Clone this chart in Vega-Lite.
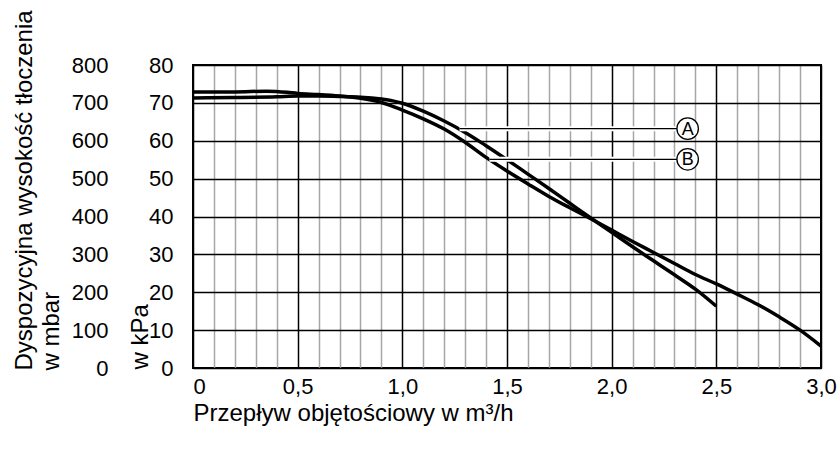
{
  "$schema": "https://vega.github.io/schema/vega-lite/v6.json",
  "width": 628,
  "height": 303,
  "autosize": {"type": "none"},
  "padding": {"left": 193, "top": 65, "right": 16, "bottom": 82},
  "background": "white",
  "config": {
    "view": {"stroke": "black", "strokeWidth": 2},
    "font": "Liberation Sans",
    "axis": {"domain": false, "ticks": false, "labelFont": "Liberation Sans", "titleFont": "Liberation Sans", "labelColor": "black", "titleColor": "black", "titleFontWeight": "normal", "labelFontSize": 22, "titleFontSize": 24, "tickCount": 1000}
  },
  "datasets": {
    "curves": [
      {"curve": "A", "q": 0, "p": 71.3},
      {"curve": "A", "q": 0.2, "p": 71.4},
      {"curve": "A", "q": 0.4, "p": 71.6},
      {"curve": "A", "q": 0.5, "p": 71.8},
      {"curve": "A", "q": 0.6, "p": 71.8},
      {"curve": "A", "q": 0.7, "p": 71.7},
      {"curve": "A", "q": 0.8, "p": 71.5},
      {"curve": "A", "q": 0.9, "p": 71.0},
      {"curve": "A", "q": 0.95, "p": 70.6},
      {"curve": "A", "q": 1.0, "p": 69.9},
      {"curve": "A", "q": 1.1, "p": 67.8},
      {"curve": "A", "q": 1.2, "p": 65.2},
      {"curve": "A", "q": 1.3, "p": 62.2},
      {"curve": "A", "q": 1.4, "p": 58.7},
      {"curve": "A", "q": 1.5, "p": 55.0},
      {"curve": "A", "q": 1.6, "p": 51.2},
      {"curve": "A", "q": 1.7, "p": 47.4},
      {"curve": "A", "q": 1.8, "p": 43.5},
      {"curve": "A", "q": 1.9, "p": 39.6},
      {"curve": "A", "q": 2.0, "p": 35.8},
      {"curve": "A", "q": 2.1, "p": 32.0},
      {"curve": "A", "q": 2.2, "p": 28.3},
      {"curve": "A", "q": 2.3, "p": 24.6},
      {"curve": "A", "q": 2.4, "p": 20.8},
      {"curve": "A", "q": 2.5, "p": 16.3},
      {"curve": "B", "q": 0, "p": 72.9},
      {"curve": "B", "q": 0.2, "p": 72.9},
      {"curve": "B", "q": 0.35, "p": 73.1},
      {"curve": "B", "q": 0.45, "p": 72.8},
      {"curve": "B", "q": 0.5, "p": 72.5},
      {"curve": "B", "q": 0.6, "p": 72.2},
      {"curve": "B", "q": 0.7, "p": 71.8},
      {"curve": "B", "q": 0.8, "p": 71.2},
      {"curve": "B", "q": 0.9, "p": 70.1},
      {"curve": "B", "q": 1.0, "p": 68.1},
      {"curve": "B", "q": 1.1, "p": 65.8},
      {"curve": "B", "q": 1.2, "p": 63.1},
      {"curve": "B", "q": 1.3, "p": 59.6},
      {"curve": "B", "q": 1.4, "p": 55.6},
      {"curve": "B", "q": 1.5, "p": 52.0},
      {"curve": "B", "q": 1.6, "p": 48.6},
      {"curve": "B", "q": 1.7, "p": 45.3},
      {"curve": "B", "q": 1.8, "p": 42.3},
      {"curve": "B", "q": 1.9, "p": 39.4},
      {"curve": "B", "q": 2.0, "p": 36.4},
      {"curve": "B", "q": 2.1, "p": 33.4},
      {"curve": "B", "q": 2.2, "p": 30.5},
      {"curve": "B", "q": 2.3, "p": 27.6},
      {"curve": "B", "q": 2.4, "p": 24.7},
      {"curve": "B", "q": 2.5, "p": 22.2},
      {"curve": "B", "q": 2.6, "p": 19.5},
      {"curve": "B", "q": 2.7, "p": 16.7},
      {"curve": "B", "q": 2.8, "p": 13.5},
      {"curve": "B", "q": 2.9, "p": 10.0},
      {"curve": "B", "q": 3.0, "p": 5.8}
    ],
    "labels": [
      {"curve": "A", "q0": 1.273, "q1": 2.363, "p": 63.2},
      {"curve": "B", "q0": 1.416, "q1": 2.363, "p": 55.1}
    ]
  },
  "layer": [
    {
      "layer": [
        {
          "data": {"name": "curves"},
          "mark": {"type": "line", "color": "black", "strokeWidth": 3.5, "interpolate": "monotone"},
          "encoding": {
            "x": {
              "field": "q", "type": "quantitative",
              "scale": {"domain": [0, 3], "nice": false},
              "axis": {
                "values": [0, 0.1, 0.2, 0.3, 0.4, 0.5, 0.6, 0.7, 0.8, 0.9, 1.0, 1.1, 1.2, 1.3, 1.4, 1.5, 1.6, 1.7, 1.8, 1.9, 2.0, 2.1, 2.2, 2.3, 2.4, 2.5, 2.6, 2.7, 2.8, 2.9, 3.0],
                "tickCount": 1000,
                "grid": true,
                "gridColor": {"condition": {"test": "round(datum.value*10)%5==0", "value": "black"}, "value": "#a6a6a6"},
                "gridWidth": 1.5,
                "labelExpr": "round(datum.value*10)%5==0 ? (datum.value==0 ? '0' : replace(format(datum.value,'.1f'),'.',',')) : ''",
                "labelAlign": {"expr": "datum.value==0 ? 'left' : 'center'"},
                "labelOverlap": false,
                "labelBound": false,
                "labelPadding": 8,
                "title": "Przepływ objętościowy w m³/h",
                "titleAnchor": "start",
                "titleAlign": "left",
                "titleBaseline": "top",
                "titleX": 0,
                "titleY": 33
              }
            },
            "y": {
              "field": "p", "type": "quantitative",
              "scale": {"domain": [0, 80], "nice": false},
              "axis": {
                "values": [0, 10, 20, 30, 40, 50, 60, 70, 80],
                "tickCount": 1000,
                "format": "d",
                "grid": true,
                "gridColor": "black",
                "gridWidth": 1.5,
                "labelPadding": 20,
                "labelOverlap": false,
                "labelBound": false,
                "title": "w kPa",
                "titleAngle": 270,
                "titleAlign": "left",
                "titleBaseline": "top",
                "titleX": -65,
                "titleY": 304
              }
            },
            "detail": {"field": "curve"}
          }
        },
        {
          "data": {"name": "labels"},
          "mark": {"type": "rule", "color": "white", "strokeWidth": 5},
          "encoding": {
            "x": {"field": "q0", "type": "quantitative"},
            "x2": {"field": "q1"},
            "y": {"field": "p", "type": "quantitative"}
          }
        },
        {
          "data": {"name": "labels"},
          "mark": {"type": "rule", "color": "black", "strokeWidth": 1.3},
          "encoding": {
            "x": {"field": "q0", "type": "quantitative"},
            "x2": {"field": "q1"},
            "y": {"field": "p", "type": "quantitative"}
          }
        },
        {
          "data": {"name": "labels"},
          "mark": {"type": "point", "shape": "circle", "filled": false, "fill": "white", "fillOpacity": 1, "stroke": "black", "strokeWidth": 1.3, "size": 460, "opacity": 1},
          "encoding": {
            "x": {"field": "q1", "type": "quantitative"},
            "y": {"field": "p", "type": "quantitative"}
          }
        },
        {
          "data": {"name": "labels"},
          "mark": {"type": "text", "fontSize": 18, "font": "Liberation Sans", "align": "center", "baseline": "middle", "dy": 1, "color": "black"},
          "encoding": {
            "x": {"field": "q1", "type": "quantitative"},
            "y": {"field": "p", "type": "quantitative"},
            "text": {"field": "curve"}
          }
        }
      ]
    },
    {
      "data": {"values": [{}]},
      "mark": {"type": "rule", "opacity": 0},
      "encoding": {
        "y": {
          "datum": 0, "type": "quantitative",
          "scale": {"domain": [0, 800], "nice": false},
          "axis": {
            "orient": "left",
            "values": [0, 100, 200, 300, 400, 500, 600, 700, 800],
            "tickCount": 1000,
            "format": "d",
            "grid": false,
            "labelPadding": 85,
            "labelOverlap": false,
            "labelBound": false,
            "title": ["Dyspozycyjna wysokość tłoczenia", "w mbar"],
            "titleAngle": 270,
            "titleAlign": "left",
            "titleBaseline": "top",
            "titleLineHeight": 27,
            "titleX": -181,
            "titleY": 305
          }
        }
      }
    }
  ],
  "resolve": {"scale": {"y": "independent"}}
}
